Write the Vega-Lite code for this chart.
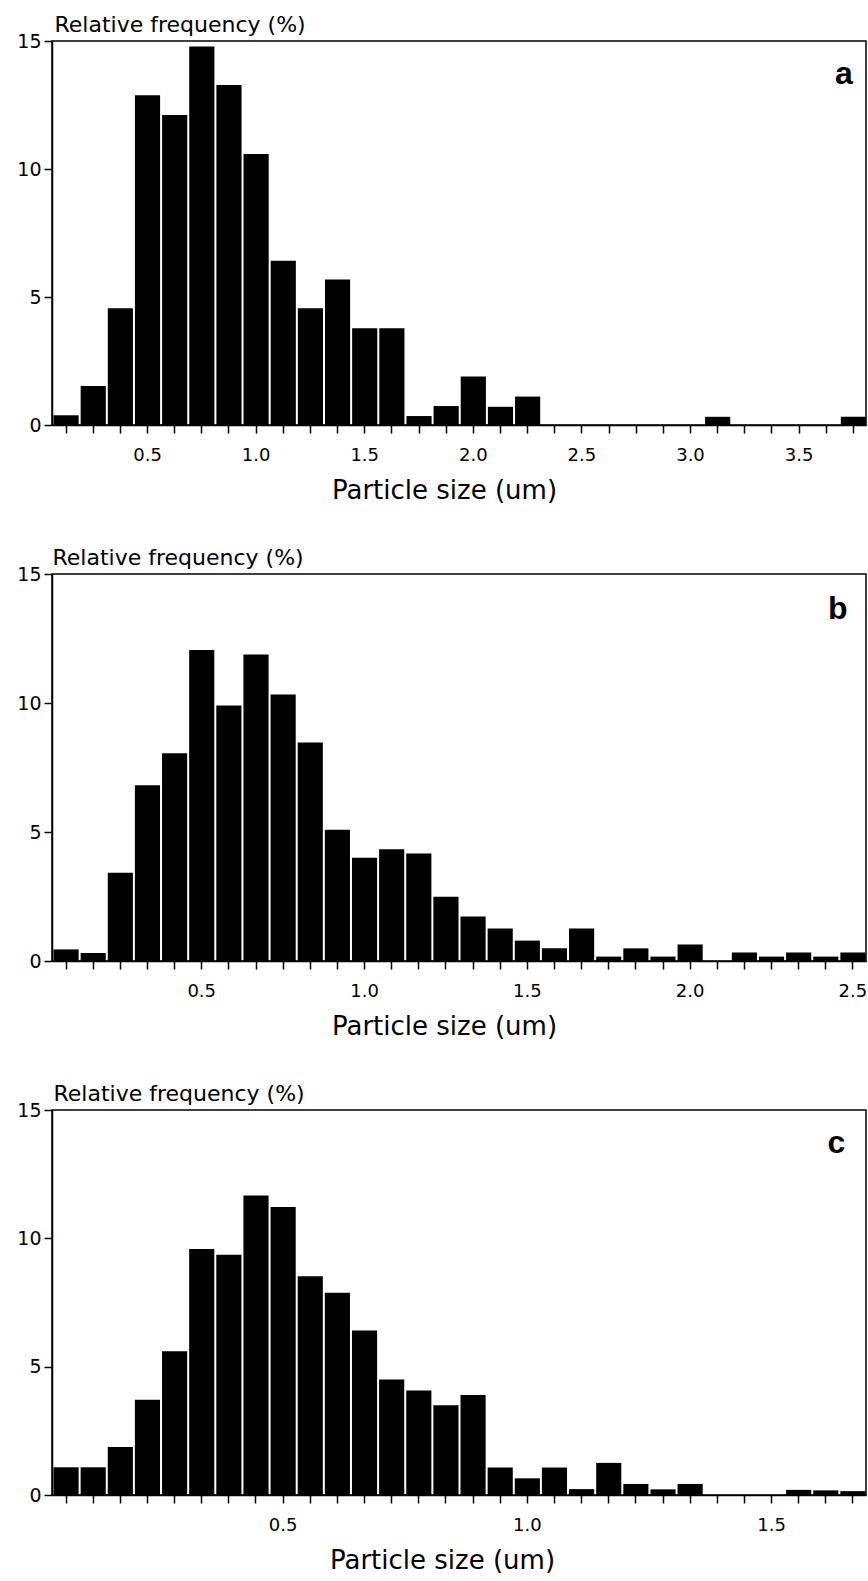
{
  "$schema": "https://vega.github.io/schema/vega-lite/v6.json",
  "padding": {"left": 16, "top": 12, "right": 0, "bottom": 0},
  "columns": 1,
  "bounds": "flush",
  "spacing": 149,
  "datasets": {
    "a": [
      {"lo": 0.0625, "hi": 0.1875, "freq": 0.38},
      {"lo": 0.1875, "hi": 0.3125, "freq": 1.52},
      {"lo": 0.3125, "hi": 0.4375, "freq": 4.56},
      {"lo": 0.4375, "hi": 0.5625, "freq": 12.88},
      {"lo": 0.5625, "hi": 0.6875, "freq": 12.11},
      {"lo": 0.6875, "hi": 0.8125, "freq": 14.79},
      {"lo": 0.8125, "hi": 0.9375, "freq": 13.28},
      {"lo": 0.9375, "hi": 1.0625, "freq": 10.59},
      {"lo": 1.0625, "hi": 1.1875, "freq": 6.42},
      {"lo": 1.1875, "hi": 1.3125, "freq": 4.56},
      {"lo": 1.3125, "hi": 1.4375, "freq": 5.68},
      {"lo": 1.4375, "hi": 1.5625, "freq": 3.78},
      {"lo": 1.5625, "hi": 1.6875, "freq": 3.78},
      {"lo": 1.6875, "hi": 1.8125, "freq": 0.35},
      {"lo": 1.8125, "hi": 1.9375, "freq": 0.74},
      {"lo": 1.9375, "hi": 2.0625, "freq": 1.89},
      {"lo": 2.0625, "hi": 2.1875, "freq": 0.71},
      {"lo": 2.1875, "hi": 2.3125, "freq": 1.11},
      {"lo": 2.3125, "hi": 2.4375, "freq": 0},
      {"lo": 2.4375, "hi": 2.5625, "freq": 0},
      {"lo": 2.5625, "hi": 2.6875, "freq": 0},
      {"lo": 2.6875, "hi": 2.8125, "freq": 0},
      {"lo": 2.8125, "hi": 2.9375, "freq": 0},
      {"lo": 2.9375, "hi": 3.0625, "freq": 0},
      {"lo": 3.0625, "hi": 3.1875, "freq": 0.32},
      {"lo": 3.1875, "hi": 3.3125, "freq": 0},
      {"lo": 3.3125, "hi": 3.4375, "freq": 0},
      {"lo": 3.4375, "hi": 3.5625, "freq": 0},
      {"lo": 3.5625, "hi": 3.6875, "freq": 0},
      {"lo": 3.6875, "hi": 3.8125, "freq": 0.32}
    ],
    "b": [
      {"lo": 0.041667, "hi": 0.125, "freq": 0.45},
      {"lo": 0.125, "hi": 0.208333, "freq": 0.31},
      {"lo": 0.208333, "hi": 0.291667, "freq": 3.42},
      {"lo": 0.291667, "hi": 0.375, "freq": 6.81},
      {"lo": 0.375, "hi": 0.458333, "freq": 8.05},
      {"lo": 0.458333, "hi": 0.541667, "freq": 12.05},
      {"lo": 0.541667, "hi": 0.625, "freq": 9.9},
      {"lo": 0.625, "hi": 0.708333, "freq": 11.88},
      {"lo": 0.708333, "hi": 0.791667, "freq": 10.33},
      {"lo": 0.791667, "hi": 0.875, "freq": 8.47},
      {"lo": 0.875, "hi": 0.958333, "freq": 5.09},
      {"lo": 0.958333, "hi": 1.041667, "freq": 4.0},
      {"lo": 1.041667, "hi": 1.125, "freq": 4.33},
      {"lo": 1.125, "hi": 1.208333, "freq": 4.17},
      {"lo": 1.208333, "hi": 1.291667, "freq": 2.49},
      {"lo": 1.291667, "hi": 1.375, "freq": 1.72},
      {"lo": 1.375, "hi": 1.458333, "freq": 1.26},
      {"lo": 1.458333, "hi": 1.541667, "freq": 0.79},
      {"lo": 1.541667, "hi": 1.625, "freq": 0.49},
      {"lo": 1.625, "hi": 1.708333, "freq": 1.26},
      {"lo": 1.708333, "hi": 1.791667, "freq": 0.17},
      {"lo": 1.791667, "hi": 1.875, "freq": 0.49},
      {"lo": 1.875, "hi": 1.958333, "freq": 0.17},
      {"lo": 1.958333, "hi": 2.041667, "freq": 0.64},
      {"lo": 2.041667, "hi": 2.125, "freq": 0},
      {"lo": 2.125, "hi": 2.208333, "freq": 0.33},
      {"lo": 2.208333, "hi": 2.291667, "freq": 0.17},
      {"lo": 2.291667, "hi": 2.375, "freq": 0.33},
      {"lo": 2.375, "hi": 2.458333, "freq": 0.17},
      {"lo": 2.458333, "hi": 2.541667, "freq": 0.33}
    ],
    "c": [
      {"lo": 0.027778, "hi": 0.083333, "freq": 1.08},
      {"lo": 0.083333, "hi": 0.138889, "freq": 1.08},
      {"lo": 0.138889, "hi": 0.194444, "freq": 1.87},
      {"lo": 0.194444, "hi": 0.25, "freq": 3.71},
      {"lo": 0.25, "hi": 0.305556, "freq": 5.6},
      {"lo": 0.305556, "hi": 0.361111, "freq": 9.58},
      {"lo": 0.361111, "hi": 0.416667, "freq": 9.36},
      {"lo": 0.416667, "hi": 0.472222, "freq": 11.67},
      {"lo": 0.472222, "hi": 0.527778, "freq": 11.22},
      {"lo": 0.527778, "hi": 0.583333, "freq": 8.52},
      {"lo": 0.583333, "hi": 0.638889, "freq": 7.88},
      {"lo": 0.638889, "hi": 0.694444, "freq": 6.41},
      {"lo": 0.694444, "hi": 0.75, "freq": 4.5},
      {"lo": 0.75, "hi": 0.805556, "freq": 4.07},
      {"lo": 0.805556, "hi": 0.861111, "freq": 3.5},
      {"lo": 0.861111, "hi": 0.916667, "freq": 3.9},
      {"lo": 0.916667, "hi": 0.972222, "freq": 1.07},
      {"lo": 0.972222, "hi": 1.027778, "freq": 0.65},
      {"lo": 1.027778, "hi": 1.083333, "freq": 1.07},
      {"lo": 1.083333, "hi": 1.138889, "freq": 0.23},
      {"lo": 1.138889, "hi": 1.194444, "freq": 1.25},
      {"lo": 1.194444, "hi": 1.25, "freq": 0.43},
      {"lo": 1.25, "hi": 1.305556, "freq": 0.22},
      {"lo": 1.305556, "hi": 1.361111, "freq": 0.43},
      {"lo": 1.361111, "hi": 1.416667, "freq": 0},
      {"lo": 1.416667, "hi": 1.472222, "freq": 0},
      {"lo": 1.472222, "hi": 1.527778, "freq": 0},
      {"lo": 1.527778, "hi": 1.583333, "freq": 0.2},
      {"lo": 1.583333, "hi": 1.638889, "freq": 0.18},
      {"lo": 1.638889, "hi": 1.694444, "freq": 0.15}
    ]
  },
  "concat": [
    {
      "width": 814,
      "height": 384,
      "encoding": {
        "x": {
          "type": "quantitative",
          "scale": {"domain": [0.0625, 3.8103], "nice": false, "zero": false},
          "axis": {
            "title": "Particle size (um)",
            "values": [0.125, 0.25, 0.375, 0.5, 0.625, 0.75, 0.875, 1.0, 1.125, 1.25, 1.375, 1.5, 1.625, 1.75, 1.875, 2.0, 2.125, 2.25, 2.375, 2.5, 2.625, 2.75, 2.875, 3.0, 3.125, 3.25, 3.375, 3.5, 3.625, 3.75],
            "labelExpr": "abs(datum.value*2 - round(datum.value*2)) < 0.01 ? format(datum.value, '.1f') : ''",
            "labelOverlap": false, "labelFlush": false, "labelBound": false,
            "labelFontSize": 18, "labelPadding": 13, "tickSize": 8,
            "titleFontSize": 26, "titlePadding": 13, "titleX": 392
          }
        },
        "y": {
          "type": "quantitative",
          "scale": {"domain": [0, 15], "nice": false},
          "axis": {"title": "Relative frequency (%)", "values": [0, 5, 10, 15], "labelPadding": 3, "labelFontSize": 19, "tickSize": 8,
            "titleFontSize": 22, "titleAngle": 0, "titleAlign": "left", "titleBaseline": "alphabetic", "titleX": 2, "titleY": -10}
        }
      },
      "layer": [
        {
          "data": {"name": "a"},
          "mark": {"type": "bar", "color": "black", "binSpacing": 2, "clip": true},
          "encoding": {
            "x": {"field": "lo", "bin": "binned"},
            "x2": {"field": "hi"},
            "y": {"field": "freq"}
          }
        },
        {
          "data": {"values": [{"panel": "a"}]},
          "mark": {"type": "text", "font": "Liberation Sans", "fontWeight": "bold", "fontSize": 32, "align": "center", "baseline": "alphabetic", "color": "black"},
          "encoding": {
            "x": {"datum": 3.709},
            "y": {"datum": 13.32},
            "text": {"field": "panel"}
          }
        }
      ]
    },
    {
      "width": 814,
      "height": 387,
      "encoding": {
        "x": {
          "type": "quantitative",
          "scale": {"domain": [0.041667, 2.541667], "nice": false, "zero": false},
          "axis": {
            "title": "Particle size (um)",
            "values": [0.083333, 0.166667, 0.25, 0.333333, 0.416667, 0.5, 0.583333, 0.666667, 0.75, 0.833333, 0.916667, 1.0, 1.083333, 1.166667, 1.25, 1.333333, 1.416667, 1.5, 1.583333, 1.666667, 1.75, 1.833333, 1.916667, 2.0, 2.083333, 2.166667, 2.25, 2.333333, 2.416667, 2.5],
            "labelExpr": "abs(datum.value*2 - round(datum.value*2)) < 0.01 ? format(datum.value, '.1f') : ''",
            "labelOverlap": false, "labelFlush": false, "labelBound": false,
            "labelFontSize": 18, "labelPadding": 13, "tickSize": 8,
            "titleFontSize": 26, "titlePadding": 13, "titleX": 392
          }
        },
        "y": {
          "type": "quantitative",
          "scale": {"domain": [0, 15], "nice": false},
          "axis": {"title": "Relative frequency (%)", "values": [0, 5, 10, 15], "labelPadding": 3, "labelFontSize": 19, "tickSize": 8,
            "titleFontSize": 22, "titleAngle": 0, "titleAlign": "left", "titleBaseline": "alphabetic", "titleX": 0, "titleY": -10}
        }
      },
      "layer": [
        {
          "data": {"name": "b"},
          "mark": {"type": "bar", "color": "black", "binSpacing": 2, "clip": true},
          "encoding": {
            "x": {"field": "lo", "bin": "binned"},
            "x2": {"field": "hi"},
            "y": {"field": "freq"}
          }
        },
        {
          "data": {"values": [{"panel": "b"}]},
          "mark": {"type": "text", "font": "Liberation Sans", "fontWeight": "bold", "fontSize": 32, "align": "center", "baseline": "alphabetic", "color": "black"},
          "encoding": {
            "x": {"datum": 2.455},
            "y": {"datum": 13.27},
            "text": {"field": "panel"}
          }
        }
      ]
    },
    {
      "width": 814,
      "height": 385,
      "encoding": {
        "x": {
          "type": "quantitative",
          "scale": {"domain": [0.027778, 1.694444], "nice": false, "zero": false},
          "axis": {
            "title": "Particle size (um)",
            "values": [0.055556, 0.111111, 0.166667, 0.222222, 0.277778, 0.333333, 0.388889, 0.444444, 0.5, 0.555556, 0.611111, 0.666667, 0.722222, 0.777778, 0.833333, 0.888889, 0.944444, 1.0, 1.055556, 1.111111, 1.166667, 1.222222, 1.277778, 1.333333, 1.388889, 1.444444, 1.5, 1.555556, 1.611111, 1.666667],
            "labelExpr": "abs(datum.value*2 - round(datum.value*2)) < 0.01 ? format(datum.value, '.1f') : ''",
            "labelOverlap": false, "labelFlush": false, "labelBound": false,
            "labelFontSize": 18, "labelPadding": 13, "tickSize": 8,
            "titleFontSize": 26, "titlePadding": 13, "titleX": 390
          }
        },
        "y": {
          "type": "quantitative",
          "scale": {"domain": [0, 15], "nice": false},
          "axis": {"title": "Relative frequency (%)", "values": [0, 5, 10, 15], "labelPadding": 3, "labelFontSize": 19, "tickSize": 8,
            "titleFontSize": 22, "titleAngle": 0, "titleAlign": "left", "titleBaseline": "alphabetic", "titleX": 1, "titleY": -10}
        }
      },
      "layer": [
        {
          "data": {"name": "c"},
          "mark": {"type": "bar", "color": "black", "binSpacing": 2, "clip": true},
          "encoding": {
            "x": {"field": "lo", "bin": "binned"},
            "x2": {"field": "hi"},
            "y": {"field": "freq"}
          }
        },
        {
          "data": {"values": [{"panel": "c"}]},
          "mark": {"type": "text", "font": "Liberation Sans", "fontWeight": "bold", "fontSize": 32, "align": "center", "baseline": "alphabetic", "color": "black"},
          "encoding": {
            "x": {"datum": 1.634},
            "y": {"datum": 13.31},
            "text": {"field": "panel"}
          }
        }
      ]
    }
  ],
  "config": {
    "font": "DejaVu Sans",
    "view": {"stroke": "black", "strokeWidth": 1.5},
    "axis": {
      "grid": false,
      "domainColor": "black",
      "domainWidth": 1.5,
      "tickColor": "black",
      "tickWidth": 1.5,
      "labelColor": "black",
      "titleColor": "black",
      "labelFont": "DejaVu Sans",
      "titleFont": "DejaVu Sans",
      "titleFontWeight": "normal"
    },
    "axisY": {"labelBaseline": "middle"}
  }
}
